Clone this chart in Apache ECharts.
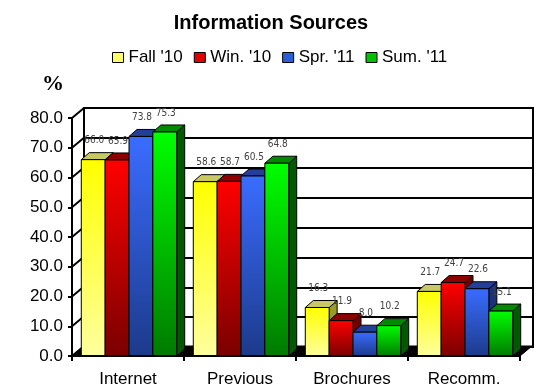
<!DOCTYPE html>
<html>
<head>
<meta charset="utf-8">
<script src="https://cdn.jsdelivr.net/npm/echarts@6/dist/echarts.min.js"></script>
<style>
html,body{margin:0;padding:0;background:#fff;}
#chart{width:542px;height:388px;}
</style>
</head>
<body>
<div id="chart"></div>
<script>
// ---- data ----
const categories = ['Internet', 'Previous', 'Brochures', 'Recomm.'];
const seriesNames = ["Fall '10", "Win. '10", "Spr. '11", "Sum. '11"];
const fall10 = [66.0, 58.6, 16.3, 21.7];
const win10  = [65.9, 58.7, 11.9, 24.7];
const spr11  = [73.8, 60.5, 8.0, 22.6];
const sum11  = [75.3, 64.8, 10.2, 15.1];
const yTicks = [0, 10, 20, 30, 40, 50, 60, 70, 80];

const seriesValues = [fall10, win10, spr11, sum11];
const palette = [
  { top: '#FFFF00', bottom: '#FFFF9E', face: '#C8C864', side: '#99992E', legend: '#FFFF66' },
  { top: '#FF0000', bottom: '#7A0000', face: '#8C0000', side: '#6A0000', legend: '#E00000' },
  { top: '#3A6CFF', bottom: '#1C3A8A', face: '#233F99', side: '#1A3078', legend: '#2F5BD8' },
  { top: '#00FF00', bottom: '#007A00', face: '#008A00', side: '#005A00', legend: '#00C000' }
];
const DX = 8, DY = -7;      // bar depth projection
const WX = 12, WY = -10;    // wall depth projection

const chart = echarts.init(document.getElementById('chart'), null, { renderer: 'canvas' });

function barRenderer(si) {
  return function (params, api) {
    const cat = api.value(0), v = api.value(1);
    const base = api.coord([cat, 0]);
    const top = api.coord([cat, v]);
    const catW = api.size([1, 0])[0];
    const bw = catW * 0.213;
    const x0 = base[0] + (si - 2) * bw + 1;
    const yt = top[1], yb = base[1];
    const c = palette[si];
    const children = [
      { type: 'polygon', shape: { points: [[x0 + bw, yt], [x0 + bw + DX, yt + DY], [x0 + bw + DX, yb + DY], [x0 + bw, yb]] },
        style: { fill: c.side, stroke: '#000', lineWidth: 1 } },
      { type: 'polygon', shape: { points: [[x0, yt], [x0 + bw, yt], [x0 + bw + DX, yt + DY], [x0 + DX, yt + DY]] },
        style: { fill: c.face, stroke: '#000', lineWidth: 1 } },
      { type: 'rect', shape: { x: x0, y: yt, width: bw, height: yb - yt },
        style: { fill: new echarts.graphic.LinearGradient(0, 0, 0, 1, [{ offset: 0, color: c.top }, { offset: 1, color: c.bottom }]),
                 stroke: '#000', lineWidth: 1 } },
      { type: 'text', style: { text: v.toFixed(1), x: x0 + bw / 2 + 1, y: yt - 19, align: 'center', verticalAlign: 'middle',
        fill: '#404040', font: "10px 'Liberation Sans Narrow','DejaVu Sans Condensed','Arial Narrow',sans-serif" } }
    ];
    return { type: 'group', children: children };
  };
}

const barSeries = seriesNames.map((name, si) => ({
  name: name,
  type: 'custom',
  coordinateSystem: 'cartesian2d',
  xAxisIndex: 1, yAxisIndex: 1,
  itemStyle: { color: palette[si].legend },
  data: categories.map((c, j) => [j, seriesValues[si][j]]),
  renderItem: barRenderer(si),
  z: 5
}));

const option = {
  animation: false,
  backgroundColor: '#fff',
  title: {
    text: 'Information Sources', left: 'center', top: 8,
    textStyle: { fontFamily: "'Liberation Sans', Arial, sans-serif", fontWeight: 'bold', fontSize: 20, color: '#000' }
  },
  legend: {
    top: 49, left: 112, padding: 0, itemWidth: 11, itemHeight: 10, itemGap: 11,
    textStyle: { fontFamily: "'Liberation Sans', Arial, sans-serif", fontSize: 17, color: '#000' },
    data: seriesNames.map((n, i) => ({ name: n, icon: 'rect', itemStyle: { color: palette[i].legend, borderColor: '#000', borderWidth: 1 } }))
  },
  graphic: [{
    type: 'text', left: 42, top: 73,
    style: { text: '%', font: "bold 22px 'Liberation Serif', 'Times New Roman', serif", fill: '#000' }
  }],
  grid: [
    { left: 84, top: 108, width: 449, height: 239, show: true, borderColor: '#000', borderWidth: 2, backgroundColor: '#fff' },
    { left: 72, top: 118, width: 448, height: 239 }
  ],
  xAxis: [
    { gridIndex: 0, type: 'category', data: categories, show: false },
    { gridIndex: 1, type: 'category', data: categories,
      axisLine: { lineStyle: { color: '#000', width: 2 } },
      axisTick: { show: true, length: 5, interval: 0, lineStyle: { color: '#000', width: 2 } },
      axisLabel: { margin: 15, fontSize: 17, color: '#000', fontFamily: "'Liberation Sans', Arial, sans-serif" },
      z: 10 }
  ],
  yAxis: [
    { gridIndex: 0, type: 'value', min: 0, max: 80, interval: 10,
      axisLine: { show: false }, axisTick: { show: false }, axisLabel: { show: false },
      splitLine: { show: true, lineStyle: { color: '#000', width: 2 } } },
    { gridIndex: 1, type: 'value', min: 0, max: 80, interval: 10,
      axisLine: { show: true, lineStyle: { color: '#000', width: 2 } },
      axisTick: { show: true, length: 4, lineStyle: { color: '#000', width: 2 } },
      axisLabel: { margin: 9, fontSize: 17, color: '#000', fontFamily: "'Liberation Sans', Arial, sans-serif",
                   formatter: v => v.toFixed(1) },
      splitLine: { show: false }, z: 10 }
  ],
  series: [
    { // floor + left wall connectors
      name: 'frame', type: 'custom', coordinateSystem: 'cartesian2d', xAxisIndex: 1, yAxisIndex: 1,
      silent: true, z: 2,
      data: yTicks.map(t => [0, t]),
      renderItem: function (params, api) {
        const cs = params.coordSys;
        const y = api.coord([0, api.value(1)])[1];
        const children = [
          { type: 'line', shape: { x1: cs.x, y1: y, x2: cs.x + WX, y2: y + WY }, style: { stroke: '#000', lineWidth: 2 } }
        ];
        if (params.dataIndex === 0) {
          const yb = cs.y + cs.height;
          children.unshift({ type: 'polygon',
            shape: { points: [[cs.x, yb], [cs.x + cs.width, yb], [cs.x + cs.width + WX, yb + WY], [cs.x + WX, yb + WY]] },
            style: { fill: '#000', stroke: '#000', lineWidth: 1 } });
        }
        return { type: 'group', children: children };
      }
    }
  ].concat(barSeries)
};
chart.setOption(option);
</script>
</body>
</html>
